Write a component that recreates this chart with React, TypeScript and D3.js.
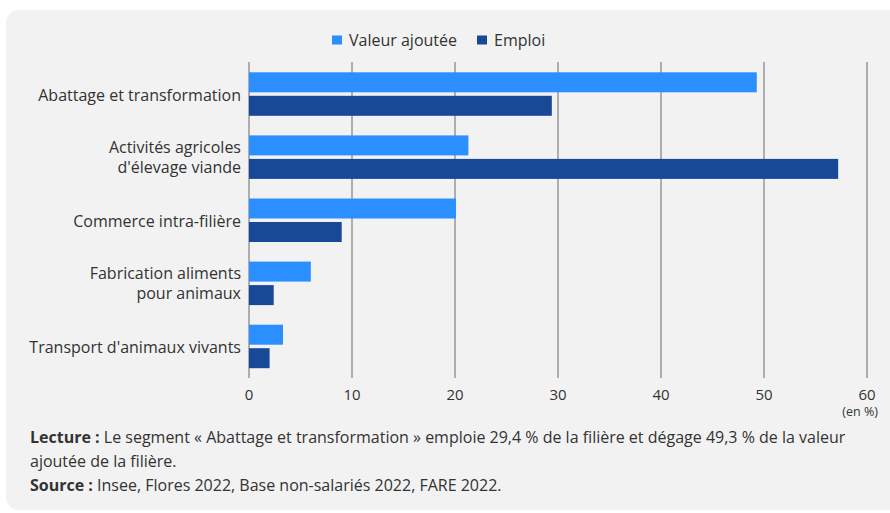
import React from "react";
import * as d3 from "d3";

const categories: string[][] = [
  ["Abattage et transformation"],
  ["Activités agricoles", "d'élevage viande"],
  ["Commerce intra-filière"],
  ["Fabrication aliments", "pour animaux"],
  ["Transport d'animaux vivants"],
];
const valeurAjoutee = [49.3, 21.3, 20.1, 6.0, 3.3];
const emploi = [29.4, 57.2, 9.0, 2.4, 2.0];
const xTicks = [0, 10, 20, 30, 40, 50, 60];
const seriesNames = ["Valeur ajoutée", "Emploi"];
const colors = ["#2B8FFF", "#184996"];

const W = 890;
const H = 513;
const FONT = "'Open Sans', 'Noto Sans', sans-serif";

export default function App() {
  const x = d3.scaleLinear().domain([0, 60]).range([249, 867]);
  const y = d3
    .scaleBand<number>()
    .domain(d3.range(categories.length))
    .range([62.5, 378])
    .padding(0);
  const barH = 20;
  const gap = 3.5;
  const series = [valeurAjoutee, emploi];

  return (
    <svg
      width={W}
      height={H}
      style={{ position: "absolute", left: 0, top: 0, display: "block" }}
      fontFamily={FONT}
    >
      <rect x={0} y={0} width={W} height={H} fill="#ffffff" />
      <rect x={6} y={10} width={896} height={500} rx={13} fill="#f2f2f2" />

      {/* legend */}
      <g fontSize={16} fill="#333">
        <rect x={332} y={35.5} width={10} height={9} fill={colors[0]} />
        <text x={349} y={46}>{seriesNames[0]}</text>
        <rect x={477} y={35.5} width={10} height={9} fill={colors[1]} />
        <text x={494} y={46}>{seriesNames[1]}</text>
      </g>

      {/* grid */}
      {xTicks.map((t) => (
        <line
          key={t}
          x1={x(t)}
          x2={x(t)}
          y1={62}
          y2={378}
          stroke="#6b6b6b"
          strokeWidth={1}
        />
      ))}

      {/* bars */}
      {categories.map((c, i) => {
        const cy = (y(i) as number) + y.bandwidth() / 2;
        return (
          <g key={i}>
            {series.map((s, j) => (
              <rect
                key={j}
                x={x(0)}
                y={j === 0 ? cy - gap / 2 - barH : cy + gap / 2}
                width={x(s[i]) - x(0)}
                height={barH}
                fill={colors[j]}
              />
            ))}
            {c.map((line, k) => (
              <text
                key={k}
                x={241}
                y={cy + (c.length === 1 ? 6.5 : -4 + k * 19.5)}
                textAnchor="end"
                fontSize={16}
                fill="#333"
              >
                {line}
              </text>
            ))}
          </g>
        );
      })}

      {/* axis labels */}
      {xTicks.map((t) => (
        <text
          key={t}
          x={x(t)}
          y={399.5}
          textAnchor="middle"
          fontSize={15}
          fill="#333"
        >
          {t}
        </text>
      ))}
      <text x={878} y={416} textAnchor="end" fontSize={12.5} fill="#333">
        (en %)
      </text>

      {/* footer */}
      <g fontSize={16} fill="#333">
        <text x={30} y={443}>
          <tspan fontWeight="bold">Lecture :</tspan>
          <tspan> Le segment « Abattage et transformation » emploie 29,4 % de la filière et dégage 49,3 % de la valeur</tspan>
        </text>
        <text x={30} y={467}>ajoutée de la filière.</text>
        <text x={30} y={491}>
          <tspan fontWeight="bold">Source :</tspan>
          <tspan> Insee, Flores 2022, Base non-salariés 2022, FARE 2022.</tspan>
        </text>
      </g>
    </svg>
  );
}
